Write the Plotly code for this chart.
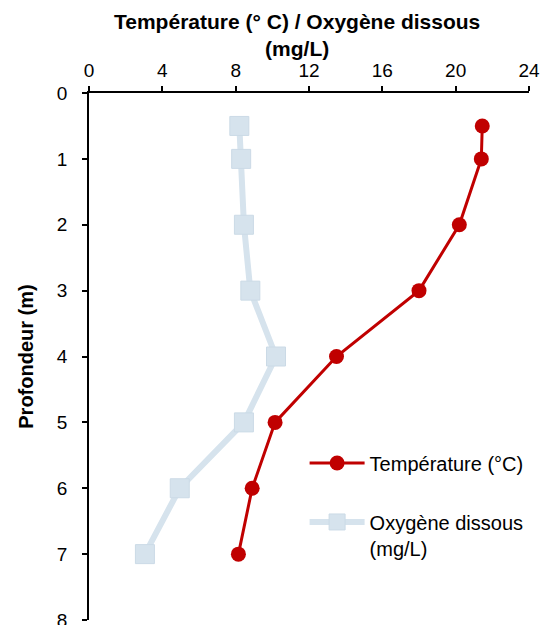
import plotly.graph_objects as go

depth = [0.5, 1, 2, 3, 4, 5, 6, 7]
temperature = [21.45, 21.4, 20.2, 18.0, 13.5, 10.15, 8.9, 8.15]
oxygen = [8.2, 8.3, 8.45, 8.8, 10.2, 8.45, 4.95, 3.05]

FONT = "Liberation Sans, Arial, sans-serif"

fig = go.Figure()
fig.add_trace(go.Scatter(
    x=temperature, y=depth, mode="lines+markers", name="Température (°C)",
    line=dict(color="#C00000", width=3),
    marker=dict(symbol="circle", size=15, color="#C00000"),
    legendgroup="a"))
fig.add_trace(go.Scatter(
    x=oxygen, y=depth, mode="lines+markers", name="Oxygène dissous<br>(mg/L)",
    line=dict(color="#D6E3ED", width=6),
    marker=dict(symbol="square", size=19, color="#D6E3ED",
                line=dict(color="#CBDAE6", width=1)),
    legendgroup="b"))

fig.add_annotation(
    text="<b>Température (° C) / Oxygène dissous<br>(mg/L)</b>",
    xref="paper", yref="paper", x=0.473, y=1, xanchor="center", yanchor="bottom",
    yshift=31, showarrow=False, font=dict(size=21), align="center")

fig.update_layout(
    width=543, height=625,
    margin=dict(l=89, r=14, t=93, b=5),
    paper_bgcolor="white", plot_bgcolor="white",
    font=dict(family=FONT, size=19, color="black"),
    legend=dict(x=0.49, y=0.335, xanchor="left", yanchor="top",
                font=dict(size=20), traceorder="grouped", itemwidth=55,
                tracegroupgap=30, valign="top", bgcolor="rgba(0,0,0,0)"),
    xaxis=dict(side="top", range=[0, 24], dtick=4, tick0=0, automargin=False,
               showline=True, linecolor="black", linewidth=1.5,
               ticks="outside", ticklen=5, tickwidth=1.5, tickcolor="black",
               showgrid=False, zeroline=False, ticklabelstandoff=2,
               ticklabeloverflow="allow"),
    yaxis=dict(range=[8, 0], dtick=1, tick0=0, automargin=False,
               showline=True, linecolor="black", linewidth=1.5,
               ticks="outside", ticklen=5, tickwidth=1.5, tickcolor="black",
               showgrid=False, zeroline=False, ticklabelstandoff=11,
               ticklabeloverflow="allow",
               title=dict(text="<b>Profondeur (m)</b>", font=dict(size=20), standoff=18)),
)

fig.write_html("out.html", post_script="document.body.style.margin='0';",
               config={"displayModeBar": False})
